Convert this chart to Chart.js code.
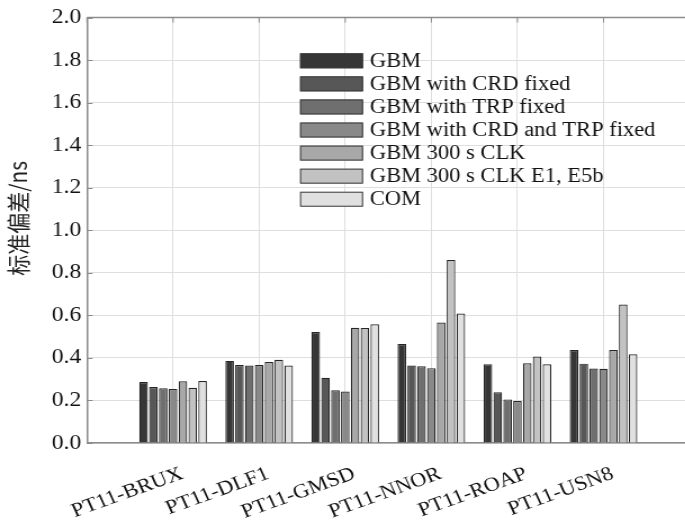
<!DOCTYPE html>
<html>
<head>
<meta charset="utf-8">
<script src="https://cdn.jsdelivr.net/npm/chart.js@4/dist/chart.umd.min.js"></script>
<style>
  html, body { margin: 0; padding: 0; background: #fff; overflow: hidden; }
  #wrap { width: 685px; height: 521px; overflow: hidden; position: relative; }
  #box { width: 616px; height: 521px; position: absolute; left: 0; top: 0;
         transform: scaleX(1.125); transform-origin: 0 0; }
</style>
</head>
<body>
<div id="wrap"><div id="box"><canvas id="c"></canvas></div></div>
<script>
const categories = ['PT11-BRUX', 'PT11-DLF1', 'PT11-GMSD', 'PT11-NNOR', 'PT11-ROAP', 'PT11-USN8'];
const seriesNames = ['GBM', 'GBM with CRD fixed', 'GBM with TRP fixed', 'GBM with CRD and TRP fixed', 'GBM 300 s CLK', 'GBM 300 s CLK E1, E5b', 'COM'];
const gbm         = [0.287, 0.386, 0.522, 0.465, 0.370, 0.437];
const crdFixed    = [0.263, 0.367, 0.307, 0.364, 0.239, 0.373];
const trpFixed    = [0.257, 0.364, 0.248, 0.361, 0.205, 0.350];
const crdTrpFixed = [0.254, 0.367, 0.242, 0.352, 0.197, 0.349];
const clk300      = [0.290, 0.381, 0.542, 0.566, 0.375, 0.437];
const clk300E1E5b = [0.260, 0.391, 0.541, 0.860, 0.407, 0.651];
const com         = [0.291, 0.364, 0.558, 0.609, 0.370, 0.417];
const yMin = 0, yMax = 2.0, yStep = 0.2;
const yTitle = '标准偏差/ns';

const seriesValues = [gbm, crdFixed, trpFixed, crdTrpFixed, clk300, clk300E1E5b, com];
const fills = ['#363636', '#575757', '#6f6f6f', '#898989', '#a8a8a8', '#c2c2c2', '#e0e0e0'];

const datasets = seriesValues.map((vals, k) => ({
  label: seriesNames[k],
  data: vals.map((v, i) => ({ x: i + 1, y: v })),
  backgroundColor: fills[k],
  borderColor: '#262626',
  borderWidth: 1.2,
  categoryPercentage: 0.80,
  barPercentage: 0.87
}));

const serif = 'Liberation Serif, Times New Roman, serif';

const framePlugin = {
  id: 'frame',
  afterDraw(chart) {
    const ctx = chart.ctx, a = chart.chartArea;
    ctx.save();
    ctx.strokeStyle = '#8c8c8c';
    ctx.lineWidth = 1.5;
    ctx.beginPath();
    ctx.moveTo(a.left, a.top);
    ctx.lineTo(a.right, a.top);
    ctx.stroke();
    const ys = chart.scales.y;
    ctx.strokeStyle = '#8a8a8a';
    ctx.lineWidth = 1;
    ys.ticks.forEach(t => {
      const py = Math.round(ys.getPixelForValue(t.value)) + 0.5;
      ctx.beginPath();
      ctx.moveTo(a.left, py);
      ctx.lineTo(a.left + 5, py);
      ctx.stroke();
    });
    const xs = chart.scales.x;
    xs.ticks.forEach(t => {
      const px = xs.getPixelForValue(t.value);
      ctx.beginPath();
      ctx.moveTo(px, a.top);
      ctx.lineTo(px, a.top + 5);
      ctx.stroke();
    });
    // y-axis title
    ctx.translate(16, (a.top + a.bottom) / 2 - 12);
    ctx.rotate(-Math.PI / 2);
    ctx.fillStyle = '#222';
    ctx.font = '21px "Noto Sans CJK SC"';
    ctx.textAlign = 'center';
    ctx.textBaseline = 'middle';
    ctx.fillText(yTitle, 0, 0);
    ctx.restore();
  }
};

const legendPlugin = {
  id: 'innerLegend',
  afterDraw(chart) {
    const ctx = chart.ctx;
    const x0 = 266.7, y0 = 53.3, bw = 56, bh = 15, pitch = 23.07;
    ctx.save();
    ctx.font = '20px ' + serif;
    ctx.textBaseline = 'middle';
    ctx.textAlign = 'left';
    chart.data.datasets.forEach((ds, k) => {
      const y = y0 + k * pitch;
      ctx.fillStyle = ds.backgroundColor;
      ctx.fillRect(x0, y, bw, bh);
      ctx.strokeStyle = '#3a3a3a';
      ctx.lineWidth = 1;
      ctx.strokeRect(x0 + 0.5, y + 0.5, bw - 1, bh - 1);
      ctx.fillStyle = '#111';
      ctx.fillText(ds.label, x0 + bw + 6, y + bh / 2 + 1);
    });
    ctx.restore();
  }
};

new Chart(document.getElementById('c'), {
  type: 'bar',
  data: { datasets },
  options: {
    responsive: true,
    maintainAspectRatio: false,
    animation: false,
    layout: { padding: { top: 13, right: 3, left: 0, bottom: 0 } },
    plugins: { legend: { display: false }, tooltip: { enabled: false } },
    scales: {
      x: {
        type: 'linear',
        min: 0,
        max: categories.length + 1,
        offset: false,
        afterFit(s) { s.height = 78; s.paddingLeft = 0; s.paddingRight = 0; },
        afterBuildTicks(s) {
          s.ticks = [];
          for (let i = 0; i <= categories.length + 1; i++) s.ticks.push({ value: i });
        },
        grid: { color: '#dedede', lineWidth: 1, drawTicks: false, offset: false },
        border: { color: '#8c8c8c', width: 1.5 },
        ticks: {
          autoSkip: false,
          minRotation: 22,
          maxRotation: 22,
          padding: 19,
          labelOffset: 8,
          color: '#111',
          font: { family: serif, size: 20 },
          callback: (v) => (v >= 1 && v <= categories.length) ? categories[v - 1] : ''
        }
      },
      y: {
        min: yMin,
        max: yMax,
        afterFit(s) { s.width = 77.3; },
        grid: { color: '#dedede', lineWidth: 1, drawTicks: false },
        border: { color: '#8c8c8c', width: 1.5 },
        ticks: {
          stepSize: yStep,
          padding: 5,
          color: '#111',
          font: { family: serif, size: 21 },
          callback: (v) => v.toFixed(1)
        }
      }
    }
  },
  plugins: [framePlugin, legendPlugin]
});
</script>
</body>
</html>
